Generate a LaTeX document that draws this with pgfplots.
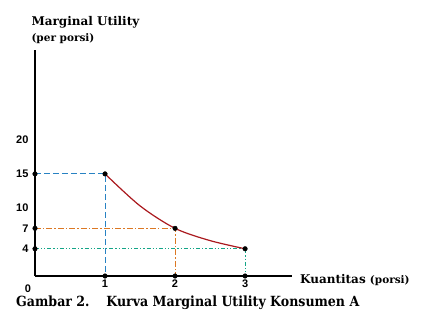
\documentclass[border=0pt]{standalone}
\usepackage{pgfplots}
\pgfplotsset{compat=1.18}
\usepackage{fontspec}
\setmainfont{Liberation Sans}
\newfontfamily\slab{DejaVu Serif}
\newfontfamily\capfont{DejaVu Serif Condensed}
\definecolor{cblue}{RGB}{40,130,195}
\definecolor{corange}{RGB}{220,120,35}
\definecolor{cteal}{RGB}{20,165,135}
\definecolor{cred}{RGB}{170,25,30}
\begin{document}
\begin{tikzpicture}[x=1pt,y=1pt]
\useasboundingbox (-35,-41) rectangle (413,276);
\begin{axis}[
  at={(0,0)}, anchor=origin,
  scale only axis, width=257pt, height=226pt,
  xmin=0, xmax=3.67, ymin=0, ymax=33.2,
  axis lines=left, axis line style={-, line width=1.4pt},
  xtick={1,2,3}, xticklabels={1,2,3},
  ytick={4,7,10,15,20}, yticklabels={4,7,10,15,20},
  major tick length=0pt,
  tick label style={font=\bfseries\fontsize{11}{12}\selectfont},
  xticklabel style={yshift=0pt},
  yticklabel style={xshift=-3pt},
  clip=false,
]
\addplot[cblue, line width=0.9pt, dash pattern=on 6pt off 3pt] coordinates {(0,15) (1,15) (1,0)};
\addplot[corange, line width=0.9pt, dash pattern=on 6pt off 2pt on 1.5pt off 2pt] coordinates {(0,7) (2,7) (2,0)};
\addplot[cteal, line width=0.9pt, dash pattern=on 4pt off 2pt on 1.2pt off 2pt on 1.2pt off 2pt] coordinates {(0,4) (3,4) (3,0)};
\addplot[cred, line width=1.2pt, smooth] coordinates {(1,15) (1.5,10.3) (2,7) (2.5,5.2) (3,4)};
\addplot[only marks, mark=*, mark size=2.3pt, black] coordinates {(0,15) (0,7) (0,4) (1,15) (2,7) (3,4) (1,0) (2,0) (3,0)};
\end{axis}
\node[font=\bfseries\fontsize{11}{12}\selectfont] at (-7,-13) {0};
\node[anchor=base west, font=\slab\bfseries\fontsize{12}{14}\selectfont] at (-7,251) {Marginal Utility};
\node[anchor=base west, font=\slab\bfseries\fontsize{10.5}{12}\selectfont] at (-7,235) {(per porsi)};
\node[anchor=base west, font=\slab\bfseries\fontsize{12}{14}\selectfont, inner sep=0pt] at (265,-7) {Kuantitas \fontsize{10.5}{12}\selectfont(porsi)};
\node[anchor=base west, font=\capfont\bfseries\fontsize{14}{16}\selectfont, inner sep=0pt] at (-19,-30) {Gambar 2.\hspace{1.2em}Kurva Marginal Utility Konsumen A};
\end{tikzpicture}
\end{document}
